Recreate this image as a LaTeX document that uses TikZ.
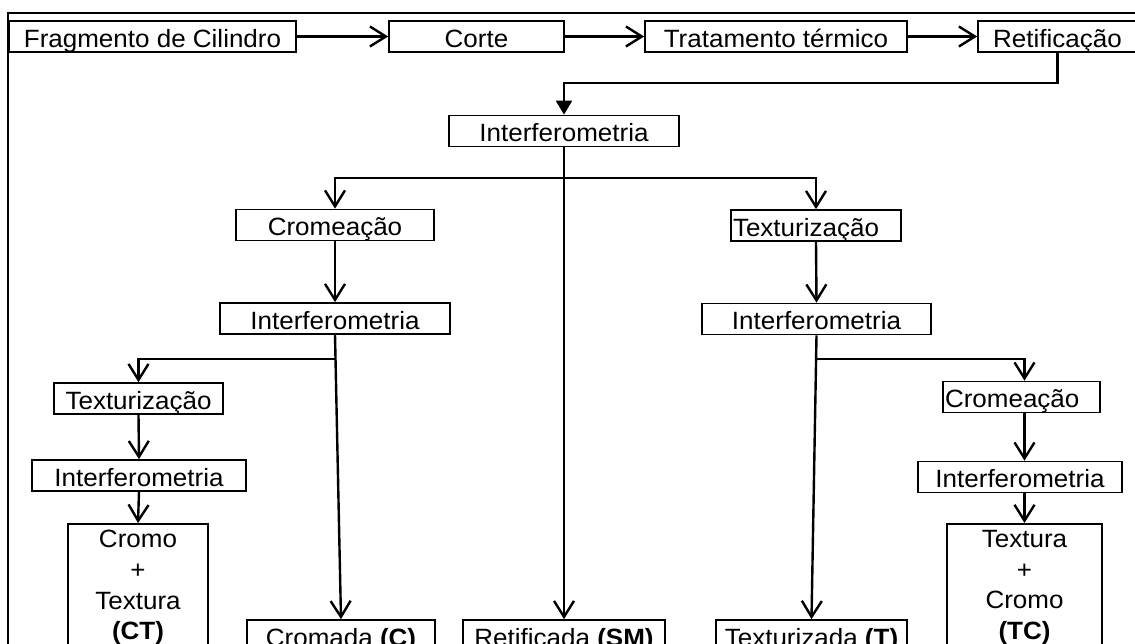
\documentclass[tikz,border=0pt]{standalone}
\usepackage{fontspec}
\setmainfont{Liberation Sans}[FakeStretch=1.04]
\usetikzlibrary{arrows.meta}
\newcommand\myfs{\fontsize{25}{30.7}\selectfont}
\tikzset{
  box/.style={draw, line width=1.7pt, inner sep=0pt, minimum height=31pt,
    text height=21pt, text depth=0pt, font=\myfs},
  boxl/.style={box, align=left, text width=#1, inner xsep=2pt},
  tall/.style={draw, line width=1.7pt, inner sep=0pt, anchor=north, minimum height=160pt},
  ttext/.style={inner sep=0pt, anchor=north, align=center, font=\myfs},
  arr/.style={line width=2.4pt, -{Straight Barb[length=16pt,width=20pt]}},
  tri/.style={line width=2.4pt, -{Triangle[length=14pt,width=16pt]}},
  frame/.style={line width=2pt},
}
\begin{document}
\begin{tikzpicture}[x=1pt,y=-1pt]
\useasboundingbox (0,0) rectangle (1135,643);
\clip (0,0) rectangle (1135,643);
\fill[white] (0,0) rectangle (1135,643);
% outer frame
\coordinate (fa) at (8,700);
\coordinate (fb) at (8,13);
\coordinate (fc) at (1150,13);
\draw[frame] (fa) -- (fb) -- (fc);
% row 1
\node[box, minimum width=287pt] (frag) at (152.5,36.5) {Fragmento de Cilindro};
\node[box, minimum width=175pt] (corte) at (476.5,36.5) {Corte};
\node[box, minimum width=262pt] (trat) at (776,36.5) {Tratamento térmico};
\node[box, minimum width=159pt] (retif) at (1057.5,36.5) {Retificação};
% level 2
\node[box, minimum width=230pt] (int1) at (564,131) {Interferometria};
\node[box, minimum width=198pt] (crom1) at (335,225) {Cromeação};
\node[boxl=166pt] (tex1) at (816,225.5) {Texturização};
% level 3
\node[box, minimum width=230pt] (int2L) at (335,318.5) {Interferometria};
\node[box, minimum width=229pt] (int2R) at (816.5,319) {Interferometria};
\node[box, minimum width=169pt] (texL) at (138.5,398.5) {Texturização};
\node[boxl=153pt] (cromR) at (1021.5,397) {Cromeação};
\node[box, minimum width=214pt] (intL3) at (139,475.5) {Interferometria};
\node[box, minimum width=204pt] (intR3) at (1020,477) {Interferometria};
% results
\node[tall, minimum width=140pt] (ct) at (138,523) {};
\node[ttext] (ctt) at (138,530) {Cromo\\+\\Textura\\\textbf{(CT)}};
\node[tall, minimum width=155pt] (tc) at (1024.5,523) {};
\node[ttext] (tct) at (1024.5,530) {Textura\\+\\Cromo\\\textbf{(TC)}};
\node[box, minimum width=188pt] (cromada) at (341,635.5) {Cromada \textbf{(C)}};
\node[box, minimum width=202pt] (retificada) at (564,635.5) {Retificada \textbf{(SM)}};
\node[box, minimum width=191pt] (texturizada) at (811.5,635.5) {Texturizada \textbf{(T)}};
% connectors row 1
\draw[arr] (frag.east) -- (corte.west);
\draw[arr] (corte.east) -- (trat.west);
\draw[arr] (trat.east) -- (retif.west);
\coordinate (r0) at (1057.5,83);
\draw[tri] (retif.south) -- (r0) -| (int1.north);
% from int1
\coordinate (b1) at (564,178);
\draw[arr] (int1.south) -- (retificada.north);
\draw[arr] (b1) -| (crom1.north);
\draw[arr] (b1) -| (tex1.north);
\draw[arr] (crom1.south) -- (int2L.north);
\draw[arr] (tex1.south) -- (int2R.north);
% from int2L
\coordinate (b2L) at (335,359);
\draw[arr] (int2L.south) -- (cromada.north);
\draw[arr] (b2L) -| (texL.north);
\draw[arr] (texL.south) -- (intL3.north);
\draw[arr] (intL3.south) -- (ct.north);
% from int2R
\coordinate (b2R) at (816.5,359);
\draw[arr] (int2R.south) -- (texturizada.north);
\draw[arr] (b2R) -| (cromR.north -| tc.north);
\draw[arr] (cromR.south -| tc.north) -- (intR3.north -| tc.north);
\draw[arr] (intR3.south -| tc.north) -- (tc.north);
\end{tikzpicture}
\end{document}
